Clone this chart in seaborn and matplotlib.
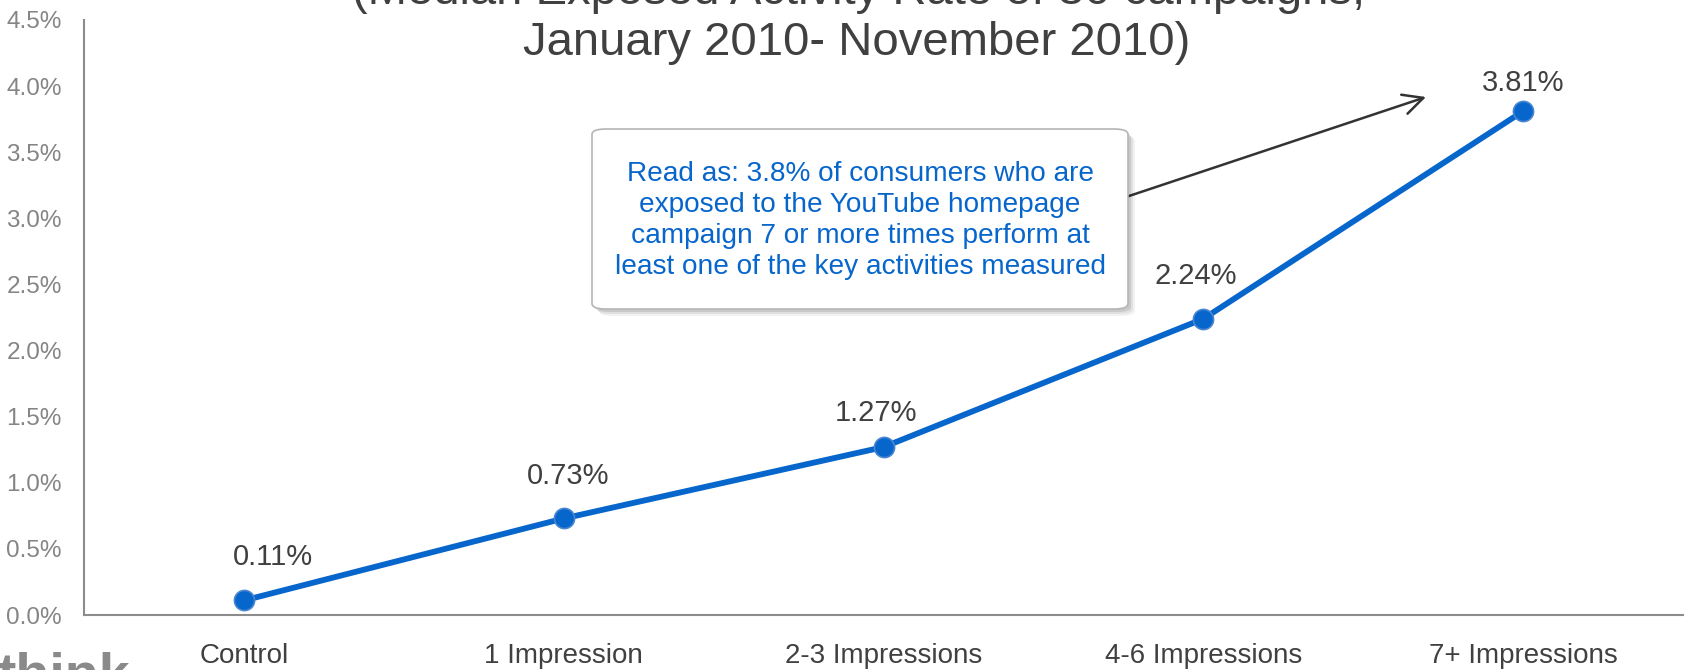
import matplotlib
matplotlib.use("Agg")
import matplotlib.pyplot as plt
from matplotlib.patches import FancyBboxPatch
import pandas as pd
import seaborn as sns

# ---- data -------------------------------------------------------------
categories = ["Control", "1 Impression", "2-3 Impressions",
              "4-6 Impressions", "7+ Impressions"]
activity_rate = [0.11, 0.73, 1.27, 2.24, 3.81]          # percent
y_ticks = [0.0, 0.5, 1.0, 1.5, 2.0, 2.5, 3.0, 3.5, 4.0, 4.5]
y_tick_labels = [f"{t:.1f}%" for t in y_ticks]
title_lines = ["(Median Exposed Activity Rate of 30 campaigns,",
               "January 2010- November 2010)"]
note_lines = ["Read as: 3.8% of consumers who are",
              "exposed to the YouTube homepage",
              "campaign 7 or more times perform at",
              "least one of the key activities measured"]
logo_text = "think"

# ---- style ------------------------------------------------------------
W, H = 1685, 670
sns.set_theme(style="white")
plt.rcParams["font.family"] = ["Liberation Sans", "DejaVu Sans"]

BLUE = "#0766CC"
DARK = "#404040"
GREY = "#858585"


def fx(px):
    return px / W


def fy(py):
    return 1 - py / H


fig = plt.figure(figsize=(W / 100, H / 100), dpi=100)
ax = fig.add_axes([fx(84), fy(615), fx(1683) - fx(84), fy(20) - fy(615)])

df = pd.DataFrame({"category": categories, "rate": activity_rate})
sns.lineplot(data=df, x="category", y="rate", ax=ax, color=BLUE,
             linewidth=4.2, marker="o", markersize=14.5,
             markerfacecolor=BLUE, markeredgecolor="#4A86CF",
             markeredgewidth=1.2, sort=False)

ax.set_xlim(-0.5, len(categories) - 0.5)
ax.set_ylim(0, 4.5)
ax.set_yticks(y_ticks)
ax.set_yticklabels(y_tick_labels, color=GREY, fontsize=17.5)
ax.set_xticks(range(len(categories)))
ax.set_xticklabels(categories, color=DARK, fontsize=20)
ax.tick_params(axis="y", length=0, pad=16)
ax.tick_params(axis="x", length=0, pad=20.5)
ax.set_xlabel("")
ax.set_ylabel("")
for side in ("top", "right"):
    ax.spines[side].set_visible(False)
for side in ("left", "bottom"):
    ax.spines[side].set_color("#8C8C8C")
    ax.spines[side].set_linewidth(1.5)
ax.grid(False)

# value labels above each point (offsets in pixels)
label_offsets = [(29, 43), (4, 42), (-8, 34), (-8, 43), (0, 28)]
for i, (v, (dx, dy)) in enumerate(zip(activity_rate, label_offsets)):
    ax.annotate(f"{v:.2f}%", xy=(i, v), xytext=(dx * 0.72, dy * 0.72),
                textcoords="offset points", ha="center", va="center",
                fontsize=21, color=DARK)

# title (first line runs off the top edge)
fig.text(fx(859), fy(-8), title_lines[0], ha="center", va="center",
         fontsize=34, color=DARK)
fig.text(fx(857), fy(43), title_lines[1], ha="center", va="center",
         fontsize=34, color=DARK)

# arrow from the note box towards the last point
ax.annotate("", xy=(fx(1426), fy(97)), xytext=(fx(1126), fy(197)),
            xycoords="figure fraction", textcoords="figure fraction",
            arrowprops=dict(arrowstyle="->", color="#333333", lw=1.8,
                            mutation_scale=36, shrinkA=0, shrinkB=0))

# note box with a soft shadow
bx0, by0, bx1, by1 = 592, 129, 1128, 309
for k, a in [(7, 0.05), (5, 0.07), (3, 0.10)]:
    fig.patches.append(FancyBboxPatch(
        (fx(bx0 + k), fy(by1 + k)), fx(bx1) - fx(bx0), fy(by0) - fy(by1),
        boxstyle="round,pad=0,rounding_size=0.008",
        transform=fig.transFigure, facecolor="#000000", edgecolor="none",
        alpha=a, zorder=5))
fig.patches.append(FancyBboxPatch(
    (fx(bx0), fy(by1)), fx(bx1) - fx(bx0), fy(by0) - fy(by1),
    boxstyle="round,pad=0,rounding_size=0.008",
    transform=fig.transFigure, facecolor="white", edgecolor="#B5B5B5",
    linewidth=1.2, zorder=6))
for j, line in enumerate(note_lines):
    fig.text(fx(860), fy(174 + 31 * j), line, ha="center", va="center",
             fontsize=20.2, color=BLUE, zorder=7)

# logo in the lower-left corner, mostly below the edge
fig.text(fx(-3), fy(692), logo_text, ha="left", va="baseline",
         fontsize=40, fontweight="bold", color="#8A8A8A")

fig.savefig("out.png", dpi=100)
